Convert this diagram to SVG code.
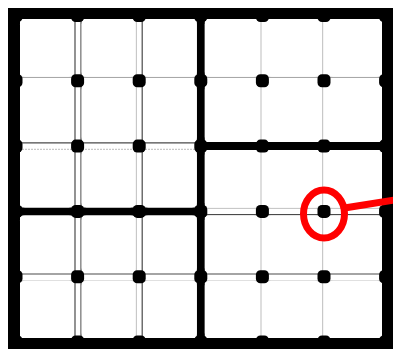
<svg xmlns="http://www.w3.org/2000/svg" width="393" height="349" viewBox="0 0 393 349">
<style>
.cell{fill:#fff}
.dk{stroke:#4a4a4a;stroke-width:1.2;fill:none}
.lt{stroke:#c8c8c8;stroke-width:1.2;fill:none}
.md{stroke:#a8a8a8;stroke-width:1.2;fill:none}
.thick{stroke:#000;stroke-width:8;fill:none}
.dot{fill:#000}
.red{stroke:#ff0000;fill:none;stroke-width:7}
</style>
<defs>
<rect id="c" width="53.6" height="57.3" rx="5" ry="5"/>
<rect id="d" x="-6.5" y="-6.5" width="13" height="13" rx="4.5" ry="4.5"/>
</defs>
<rect x="0" y="0" width="393" height="349" fill="#fff"/>
<g id="frame">
<rect x="8" y="8" width="385" height="341" fill="#000"/>
<rect x="20" y="19" width="362" height="319" fill="#fff"/>
</g>
<g id="connectors">
<line class="dk" x1="75" y1="16" x2="75" y2="342"/>
<line class="dk" x1="81" y1="16" x2="81" y2="342"/>
<line class="lt" x1="136.4" y1="16" x2="136.4" y2="342"/>
<line class="dk" x1="142.2" y1="16" x2="142.2" y2="342"/>
<line class="lt" x1="261" y1="16" x2="261" y2="342"/>
<line class="lt" x1="322.6" y1="16" x2="322.6" y2="342"/>
<line class="md" x1="16" y1="77.3" x2="386" y2="77.3"/>
<line class="dk" x1="16" y1="142.9" x2="200" y2="142.9"/>
<line class="lt" x1="16" y1="149.4" x2="200" y2="149.4" stroke-dasharray="2 1"/>
<line class="lt" x1="200" y1="208.3" x2="386" y2="208.3"/>
<line class="dk" x1="200" y1="214.6" x2="386" y2="214.6"/>
<line class="dk" x1="16" y1="274" x2="386" y2="274"/>
<line class="lt" x1="16" y1="280.8" x2="386" y2="280.8"/>
<line class="thick" x1="200.8" y1="8" x2="200.8" y2="349"/>
<line class="thick" x1="8" y1="211.6" x2="200.8" y2="211.6"/>
<line class="thick" x1="200.8" y1="146.1" x2="393" y2="146.1"/>
</g>
<g id="dots" class="dot">
<use href="#d" x="16" y="15.5"/><use href="#d" x="77.6" y="15.5"/><use href="#d" x="139.2" y="15.5"/><use href="#d" x="200.8" y="15.5"/><use href="#d" x="262.4" y="15.5"/><use href="#d" x="324" y="15.5"/><use href="#d" x="385.6" y="15.5"/>
<use href="#d" x="16" y="80.8"/><use href="#d" x="77.6" y="80.8"/><use href="#d" x="139.2" y="80.8"/><use href="#d" x="200.8" y="80.8"/><use href="#d" x="262.4" y="80.8"/><use href="#d" x="324" y="80.8"/><use href="#d" x="385.6" y="80.8"/>
<use href="#d" x="16" y="146.1"/><use href="#d" x="77.6" y="146.1"/><use href="#d" x="139.2" y="146.1"/><use href="#d" x="200.8" y="146.1"/><use href="#d" x="262.4" y="146.1"/><use href="#d" x="324" y="146.1"/><use href="#d" x="385.6" y="146.1"/>
<use href="#d" x="16" y="211.4"/><use href="#d" x="77.6" y="211.4"/><use href="#d" x="139.2" y="211.4"/><use href="#d" x="200.8" y="211.4"/><use href="#d" x="262.4" y="211.4"/><use href="#d" x="324" y="211.4"/><use href="#d" x="385.6" y="211.4"/>
<use href="#d" x="16" y="276.7"/><use href="#d" x="77.6" y="276.7"/><use href="#d" x="139.2" y="276.7"/><use href="#d" x="200.8" y="276.7"/><use href="#d" x="262.4" y="276.7"/><use href="#d" x="324" y="276.7"/><use href="#d" x="385.6" y="276.7"/>
<use href="#d" x="16" y="342"/><use href="#d" x="77.6" y="342"/><use href="#d" x="139.2" y="342"/><use href="#d" x="200.8" y="342"/><use href="#d" x="262.4" y="342"/><use href="#d" x="324" y="342"/><use href="#d" x="385.6" y="342"/>
</g>
<g id="cells">
<use href="#c" class="cell" x="20" y="19.5"/><use href="#c" class="cell" x="81.6" y="19.5"/><use href="#c" class="cell" x="143.2" y="19.5"/><use href="#c" class="cell" x="204.8" y="19.5"/><use href="#c" class="cell" x="266.4" y="19.5"/><use href="#c" class="cell" x="328" y="19.5"/>
<use href="#c" class="cell" x="20" y="84.8"/><use href="#c" class="cell" x="81.6" y="84.8"/><use href="#c" class="cell" x="143.2" y="84.8"/><use href="#c" class="cell" x="204.8" y="84.8"/><use href="#c" class="cell" x="266.4" y="84.8"/><use href="#c" class="cell" x="328" y="84.8"/>
<use href="#c" class="cell" x="20" y="150.1"/><use href="#c" class="cell" x="81.6" y="150.1"/><use href="#c" class="cell" x="143.2" y="150.1"/><use href="#c" class="cell" x="204.8" y="150.1"/><use href="#c" class="cell" x="266.4" y="150.1"/><use href="#c" class="cell" x="328" y="150.1"/>
<use href="#c" class="cell" x="20" y="215.4"/><use href="#c" class="cell" x="81.6" y="215.4"/><use href="#c" class="cell" x="143.2" y="215.4"/><use href="#c" class="cell" x="204.8" y="215.4"/><use href="#c" class="cell" x="266.4" y="215.4"/><use href="#c" class="cell" x="328" y="215.4"/>
<use href="#c" class="cell" x="20" y="280.7"/><use href="#c" class="cell" x="81.6" y="280.7"/><use href="#c" class="cell" x="143.2" y="280.7"/><use href="#c" class="cell" x="204.8" y="280.7"/><use href="#c" class="cell" x="266.4" y="280.7"/><use href="#c" class="cell" x="328" y="280.7"/>
</g>
<g id="highlight">
<ellipse class="red" cx="324" cy="214" rx="20.5" ry="24"/>
<line class="red" x1="346" y1="207.8" x2="397" y2="199.6" stroke-width="7.5"/>
</g>
</svg>
